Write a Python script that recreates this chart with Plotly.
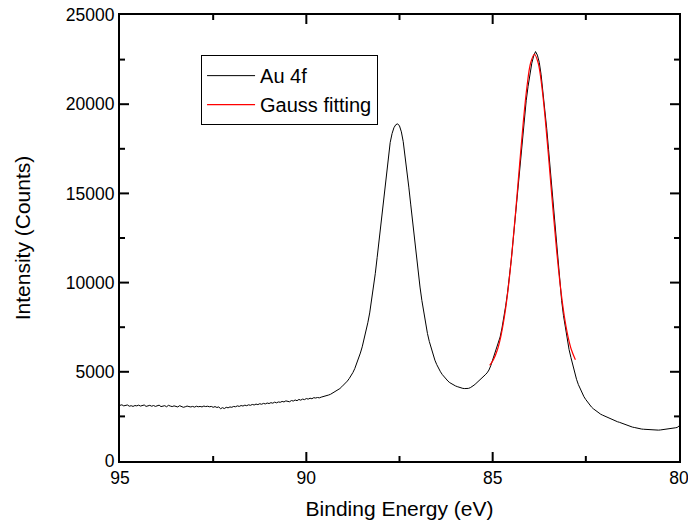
import numpy as np
import plotly.graph_objects as go

# Au 4f spectrum, sampled every 0.05 eV from 95.00 eV down to 80.00 eV
au4f_counts = [
    3120, 3150, 3090, 3110, 3140, 3070, 3100, 3060, 3110, 3090,   # 95.00
    3130, 3080, 3100, 3140, 3060, 3090, 3120, 3070, 3110, 3060,   # 94.50
    3090, 3130, 3050, 3080, 3100, 3040, 3120, 3080, 3050, 3090,   # 94.00
    3070, 3030, 3100, 3060, 3010, 3040, 3080, 3050, 3030, 3060,   # 93.50
    3020, 3070, 3040, 3060, 3030, 3080, 3050, 3070, 3040, 3060,   # 93.00
    3010, 3050, 3000, 3030, 2930, 2990, 2940, 3010, 2980, 3030,   # 92.50
    3010, 3060, 3040, 3090, 3060, 3110, 3080, 3130, 3100, 3150,   # 92.00
    3120, 3170, 3140, 3190, 3160, 3210, 3180, 3230, 3200, 3250,   # 91.50
    3220, 3270, 3240, 3300, 3260, 3310, 3290, 3340, 3310, 3370,   # 91.00
    3350, 3320, 3390, 3360, 3420, 3380, 3450, 3410, 3470, 3440,   # 90.50
    3500, 3470, 3520, 3490, 3550, 3530, 3560, 3540, 3580, 3600,   # 90.00
    3620, 3650, 3700, 3740, 3800, 3860, 3910, 3990, 4060, 4160,   # 89.50
    4250, 4360, 4480, 4620, 4780, 4960, 5180, 5440, 5740, 6050,   # 89.00
    6400, 6800, 7250, 7750, 8300, 8950, 9700, 10500, 11400, 12350,  # 88.50
    13300, 14300, 15300, 16250, 17100, 17850, 18350, 18680, 18850, 18900,  # 88.00
    18780, 18450, 17900, 17150, 16300, 15350, 14400, 13400, 12400, 11450,  # 87.50
    10550, 9750, 9000, 8300, 7700, 7150, 6700, 6300, 5950, 5650,  # 87.00
    5400, 5180, 5000, 4840, 4700, 4580, 4480, 4390, 4320, 4260,   # 86.50
    4210, 4170, 4130, 4100, 4070, 4060, 4050, 4070, 4110, 4170,   # 86.00
    4250, 4340, 4430, 4530, 4630, 4730, 4830, 4940, 5100, 5350,   # 85.50
    5700, 6000, 6300, 6650, 6950, 7450, 8000, 8700, 9450, 10300,  # 85.00
    11300, 12400, 13500, 14700, 15900, 17100, 18200, 19250, 20200, 21000,  # 84.50
    21750, 22300, 22700, 22950, 22750, 22350, 21650, 20750, 19700, 18650,  # 84.00
    17450, 16250, 14950, 13650, 12350, 11100, 9950, 9000, 8150, 7450,  # 83.50
    6800, 6250, 5800, 5350, 4950, 4580, 4280, 4020, 3800, 3600,   # 83.00
    3440, 3280, 3150, 3030, 2930, 2840, 2760, 2690, 2620, 2570,   # 82.50
    2520, 2470, 2430, 2380, 2330, 2290, 2250, 2200, 2170, 2130,   # 82.00
    2090, 2040, 1980, 1960, 1930, 1900, 1880, 1850, 1830, 1810,   # 81.50
    1790, 1780, 1770, 1760, 1760, 1750, 1740, 1750, 1740, 1730,   # 81.00
    1740, 1750, 1760, 1780, 1800, 1820, 1840, 1830, 1860, 1880,   # 80.50
    1960,                                                         # 80.00
]
au4f_energy = np.round(np.linspace(95.0, 80.0, len(au4f_counts)), 2)

# Gaussian fit of the Au 4f7/2 peak
gauss_energy = [85.08, 84.98, 84.88, 84.78, 84.68, 84.58, 84.48, 84.38, 84.28, 84.18,
                84.08, 83.98, 83.88, 83.78, 83.68, 83.58, 83.48, 83.38, 83.28, 83.18,
                83.08, 82.98, 82.88, 82.78]
gauss_counts = [5363, 5675, 6191, 6992, 8154, 9731, 11725, 14053, 16549, 18955,
                20976, 22325, 22800, 22325, 20976, 18955, 16549, 14053, 11725, 9731,
                8154, 6992, 6191, 5675]

x_range = [95, 80]
x_ticks = [95, 90, 85, 80]
x_tick_labels = ["95", "90", "85", "80"]
x_minor_ticks = [92.5, 87.5, 82.5]
y_range = [0, 25000]
y_ticks = [0, 5000, 10000, 15000, 20000, 25000]
y_tick_labels = ["0", "5000", "10000", "15000", "20000", "25000"]
y_minor_ticks = [2500, 7500, 12500, 17500, 22500]

font_family = "Liberation Sans, Arial, sans-serif"
MAJOR_LEN, MINOR_LEN = 9, 5

fig = go.Figure()
fig.add_trace(go.Scatter(x=au4f_energy, y=au4f_counts, mode="lines", name="Au 4f",
                         line=dict(color="black", width=1)))
fig.add_trace(go.Scatter(x=gauss_energy, y=gauss_counts, mode="lines", name="Gauss fitting",
                         line=dict(color="red", width=1.2, shape="spline")))

fig.update_xaxes(
    range=x_range, tickmode="array", tickvals=x_ticks, ticktext=x_tick_labels,
    showline=True, linecolor="black", linewidth=2, mirror=True, ticks="",
    showgrid=False, zeroline=False,
    tickfont=dict(size=17.5, color="black", family=font_family),
    automargin=False, ticklabeloverflow="allow",
    title=dict(text="Binding Energy (eV)", font=dict(size=21, color="black", family=font_family), standoff=14),
)
fig.update_yaxes(
    range=y_range, tickmode="array", tickvals=y_ticks, ticktext=y_tick_labels,
    showline=True, linecolor="black", linewidth=2, mirror=True, ticks="",
    showgrid=False, zeroline=False,
    tickfont=dict(size=17.5, color="black", family=font_family),
    automargin=False, ticklabeloverflow="allow",
    title=dict(text="Intensity (Counts)", font=dict(size=21, color="black", family=font_family), standoff=29),
)

# inward tick marks on all four sides, placed through the axis scales
tick_line = dict(color="black", width=2)
for vals, length in ((x_ticks[1:-1], MAJOR_LEN), (x_minor_ticks, MINOR_LEN)):
    for v in vals:
        fig.add_shape(type="line", xref="x", yref="paper", x0=v, x1=v,
                      ysizemode="pixel", yanchor=0, y0=0, y1=length, line=tick_line, layer="above")
        fig.add_shape(type="line", xref="x", yref="paper", x0=v, x1=v,
                      ysizemode="pixel", yanchor=1, y0=0, y1=-length, line=tick_line, layer="above")
for vals, length in ((y_ticks[1:-1], MAJOR_LEN), (y_minor_ticks, MINOR_LEN)):
    for v in vals:
        fig.add_shape(type="line", yref="y", xref="paper", y0=v, y1=v,
                      xsizemode="pixel", xanchor=0, x0=0, x1=length, line=tick_line, layer="above")
        fig.add_shape(type="line", yref="y", xref="paper", y0=v, y1=v,
                      xsizemode="pixel", xanchor=1, x0=0, x1=-length, line=tick_line, layer="above")

fig.update_layout(
    width=688, height=527,
    margin=dict(l=120, r=9, t=15, b=66),
    paper_bgcolor="white", plot_bgcolor="white",
    font=dict(family=font_family, color="black"),
    showlegend=True,
    legend=dict(
        x=0.145, y=0.91, xanchor="left", yanchor="top",
        bgcolor="white", bordercolor="black", borderwidth=1,
        font=dict(size=20, color="black", family=font_family),
        tracegroupgap=0, itemwidth=48,
    ),
)

fig.write_html("out.html")
